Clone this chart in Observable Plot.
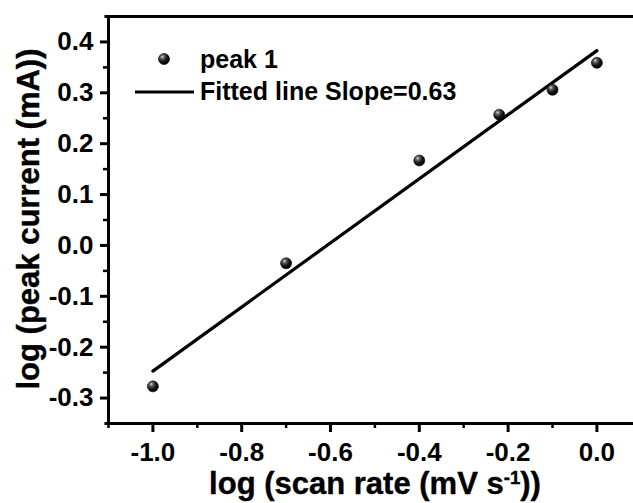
<!DOCTYPE html>
<html>
<head>
<meta charset="utf-8">
<script src="https://cdn.jsdelivr.net/npm/d3@7"></script>
<script src="https://cdn.jsdelivr.net/npm/@observablehq/plot@0.6"></script>
<style>
  html, body { margin: 0; padding: 0; background: #fff; }
  #wrap { position: relative; width: 633px; height: 503px; overflow: hidden; font-family: "Liberation Sans", Arial, sans-serif; font-weight: bold; color: #000; }
  #wrap svg { display: block; }
  .lbl { position: absolute; white-space: nowrap; line-height: 1; font-weight: bold; -webkit-text-stroke: 0.4px #000; }
  .lbl sup { font-size: 0.6em; vertical-align: 0.55em; line-height: 0; }
</style>
</head>
<body>
<div id="wrap"></div>
<script>
// Data
const scanLog = [-1.0, -0.7, -0.4, -0.22, -0.1, 0.0];
const peakLog = [-0.277, -0.035, 0.167, 0.257, 0.306, 0.359];
const fitX = [-1.0, 0.0];
const fitY = [-0.247, 0.383];
const xTicks = [-1.0, -0.8, -0.6, -0.4, -0.2, 0.0];
const yTicks = [-0.3, -0.2, -0.1, 0.0, 0.1, 0.2, 0.3, 0.4];
const xMinor = [-1.1, -0.9, -0.7, -0.5, -0.3, -0.1];
const yMinor = [-0.25, -0.15, -0.05, 0.05, 0.15, 0.25, 0.35];
const legendLabels = ["peak 1", "Fitted line Slope=0.63"];
const xLabelText = "log (scan rate (mV s<sup>-1</sup>))";
const yLabelText = "log (peak current (mA))";

const points = scanLog.map((x, i) => ({x, y: peakLog[i]}));
const fit = fitX.map((x, i) => ({x, y: fitY[i]}));
const fmt = d => d.toFixed(1);

const X0 = -1.1, X1 = 0.0824, Y0 = -0.35, Y1 = 0.45;

function addGradient(sel, id) {
  const g = sel.append("radialGradient").attr("id", id).attr("cx", "35%").attr("cy", "30%").attr("r", "70%");
  g.append("stop").attr("offset", "0%").attr("stop-color", "#e0e0e0");
  g.append("stop").attr("offset", "22%").attr("stop-color", "#6a6a6a");
  g.append("stop").attr("offset", "60%").attr("stop-color", "#1a1a1a");
  g.append("stop").attr("offset", "100%").attr("stop-color", "#000");
}

const defs = () => {
  const d = d3.create("svg:defs");
  addGradient(d, "ball");
  return d.node();
};

const chart = Plot.plot({
  width: 633,
  height: 503,
  marginLeft: 108,
  marginRight: 0,
  marginTop: 16,
  marginBottom: 80,
  style: {background: "#fff", color: "#000", fontFamily: "'Liberation Sans', Arial, sans-serif", overflow: "visible"},
  x: {domain: [X0, X1]},
  y: {domain: [Y0, Y1]},
  marks: [
    defs,
    Plot.axisX({ticks: xTicks, tickSize: 9, tickPadding: 10, tickFormat: fmt, fontSize: 26, fontWeight: "bold", strokeWidth: 3, label: null}),
    Plot.axisX({ticks: xMinor, tickSize: 5, text: null, strokeWidth: 2.5, label: null}),
    Plot.axisY({ticks: yTicks, tickSize: 8, tickPadding: 7, tickFormat: fmt, fontSize: 26, fontWeight: "bold", strokeWidth: 3, label: null}),
    Plot.axisY({ticks: yMinor, tickSize: 5, text: null, strokeWidth: 2.5, label: null}),
    Plot.ruleX([X0], {y1: Y0, y2: Y1, stroke: "#000", strokeWidth: 3}),
    Plot.ruleY([Y0], {x1: X0 - 0.008, x2: X1, stroke: "#000", strokeWidth: 3}),
    Plot.ruleY([Y1], {x1: X0 - 0.008, x2: X1, stroke: "#000", strokeWidth: 3}),
    Plot.line(fit, {x: "x", y: "y", stroke: "#000", strokeWidth: 3.2}),
    Plot.dot(points, {x: "x", y: "y", r: 5.5, fill: "url(#ball)", stroke: "#000", strokeWidth: 0.6})
  ]
});

const wrap = document.getElementById("wrap");
wrap.appendChild(chart);

// Legend
const leg = d3.select(wrap).append("svg")
  .attr("width", 633).attr("height", 503)
  .style("position", "absolute").style("left", "0px").style("top", "0px").style("pointer-events", "none");
addGradient(leg.append("defs"), "ball2");
leg.append("circle").attr("cx", 164).attr("cy", 59).attr("r", 5.5).attr("fill", "url(#ball2)").attr("stroke", "#000").attr("stroke-width", 0.6);
leg.append("line").attr("x1", 135).attr("x2", 194).attr("y1", 92).attr("y2", 92).attr("stroke", "#000").attr("stroke-width", 3.2);
leg.append("text").attr("x", 200).attr("y", 68).attr("font-size", 25).attr("font-weight", "bold")
  .attr("font-family", "'Liberation Sans', Arial, sans-serif").text(legendLabels[0]);
leg.append("text").attr("x", 200).attr("y", 100).attr("font-size", 25).attr("font-weight", "bold")
  .attr("font-family", "'Liberation Sans', Arial, sans-serif").text(legendLabels[1]);

// Axis titles
const xl = document.createElement("div");
xl.className = "lbl";
xl.innerHTML = xLabelText;
xl.style.fontSize = "31px";
xl.style.left = "375px";
xl.style.top = "468px";
xl.style.transform = "translateX(-50%)";
wrap.appendChild(xl);

const yl = document.createElement("div");
yl.className = "lbl";
yl.textContent = yLabelText;
yl.style.fontSize = "31px";
yl.style.left = "28px";
yl.style.top = "219px";
yl.style.transform = "translate(-50%, -50%) rotate(-90deg)";
wrap.appendChild(yl);
</script>
</body>
</html>
